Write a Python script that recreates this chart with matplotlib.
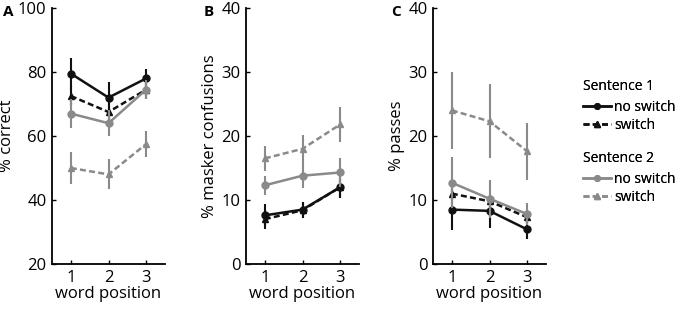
import numpy as np
import matplotlib
matplotlib.use('Agg')
import matplotlib.pyplot as plt
from matplotlib.lines import Line2D

plt.rcParams['font.family'] = ['Open Sans', 'DejaVu Sans']

pos = [1, 2, 3]

# panel A: % correct
a_s1_ns = [79.5, 72.0, 78.0]
a_s1_ns_err = [5.0, 5.0, 3.0]
a_s1_sw = [72.5, 67.5, 74.5]
a_s1_sw_err = [3.0, 3.0, 3.0]
a_s2_ns = [67.0, 64.0, 74.5]
a_s2_ns_err = [4.5, 4.0, 3.0]
a_s2_sw = [50.0, 48.0, 57.5]
a_s2_sw_err = [5.0, 4.7, 4.0]

# panel B: % masker confusions
b_s1_ns = [7.6, 8.5, 12.0]
b_s1_ns_err = [1.7, 1.2, 1.7]
b_s1_sw = [7.0, 8.4, 12.0]
b_s1_sw_err = [1.5, 1.2, 1.5]
b_s2_ns = [12.3, 13.8, 14.3]
b_s2_ns_err = [1.5, 2.0, 2.2]
b_s2_sw = [16.5, 18.0, 21.8]
b_s2_sw_err = [2.0, 2.2, 2.7]

# panel C: % passes
c_s1_ns = [8.5, 8.3, 5.4]
c_s1_ns_err = [3.2, 2.7, 1.5]
c_s1_sw = [11.0, 9.8, 7.3]
c_s1_sw_err = [1.0, 1.0, 1.0]
c_s2_ns = [12.7, 10.2, 7.8]
c_s2_ns_err = [4.0, 3.0, 1.7]
c_s2_sw = [24.0, 22.3, 17.6]
c_s2_sw_err = [6.0, 5.8, 4.5]

black = '#111111'
gray = '#8a8a8a'
dash = (0, (2.4, 1.3))

fig = plt.figure(figsize=(6.8, 3.14), dpi=100)
lefts = [52/680, 246/680, 433/680]
w = 113/680
bot = 1 - 264/314
h = 256/314

panels = [
    ('A', '% correct', (20, 100), [20, 40, 60, 80, 100],
     [(a_s1_ns, a_s1_ns_err), (a_s1_sw, a_s1_sw_err), (a_s2_ns, a_s2_ns_err), (a_s2_sw, a_s2_sw_err)]),
    ('B', '% masker confusions', (0, 40), [0, 10, 20, 30, 40],
     [(b_s1_ns, b_s1_ns_err), (b_s1_sw, b_s1_sw_err), (b_s2_ns, b_s2_ns_err), (b_s2_sw, b_s2_sw_err)]),
    ('C', '% passes', (0, 40), [0, 10, 20, 30, 40],
     [(c_s1_ns, c_s1_ns_err), (c_s1_sw, c_s1_sw_err), (c_s2_ns, c_s2_ns_err), (c_s2_sw, c_s2_sw_err)]),
]
styles = [(black, '-', 'o'), (black, dash, '^'),
          (gray, '-', 'o'), (gray, dash, '^')]

for left, (lab, ylab, ylim, yt, series) in zip(lefts, panels):
    ax = fig.add_axes([left, bot, w, h])
    for (vals, err), (col, ls, mk) in zip(series, styles):
        ax.errorbar(pos, vals, yerr=err, color=col, ecolor=col, elinewidth=1.5,
                    capsize=0, linestyle='none')
        ax.plot(pos, vals, color=col, linestyle=ls, marker=mk, markersize=5,
                linewidth=1.8)
    ax.set_xlim(0.5, 3.5)
    ax.set_ylim(*ylim)
    ax.set_xticks(pos)
    ax.set_yticks(yt)
    ax.tick_params(direction='in', length=3, width=1, labelsize=12, pad=4)
    ax.spines['top'].set_visible(False)
    ax.spines['right'].set_visible(False)
    ax.spines['left'].set_linewidth(1.3)
    ax.spines['bottom'].set_linewidth(1.3)
    ax.set_xlabel('word position', fontsize=12, labelpad=0)
    ax.set_ylabel(ylab, fontsize=12, labelpad=2)
    lx = -0.39 if lab == 'A' else -0.33
    ax.text(lx, 0.985, lab, transform=ax.transAxes, fontsize=11, fontweight='bold',
            ha='center', va='center')

# legends
h1 = [Line2D([], [], color=black, linestyle='-', marker='o', markersize=4, linewidth=1.8),
      Line2D([], [], color=black, linestyle=dash, marker='^', markersize=4, linewidth=1.8)]
h2 = [Line2D([], [], color=gray, linestyle='-', marker='o', markersize=4, linewidth=1.8),
      Line2D([], [], color=gray, linestyle=dash, marker='^', markersize=4, linewidth=1.8)]
for hs, title, y in [(h1, 'Sentence 1', 1 - 79/314), (h2, 'Sentence 2', 1 - 151/314)]:
    leg = fig.legend(hs, ['no switch', 'switch'], title=title, loc='upper left',
                     bbox_to_anchor=(583/680, y), frameon=False, fontsize=10,
                     title_fontsize=10, handlelength=2.0, handletextpad=0.25,
                     labelspacing=0.22, borderaxespad=0, borderpad=0)
    leg._legend_box.align = 'left'
    leg._legend_box.sep = 4
    fig.add_artist(leg)

fig.savefig('out.png', dpi=100)
